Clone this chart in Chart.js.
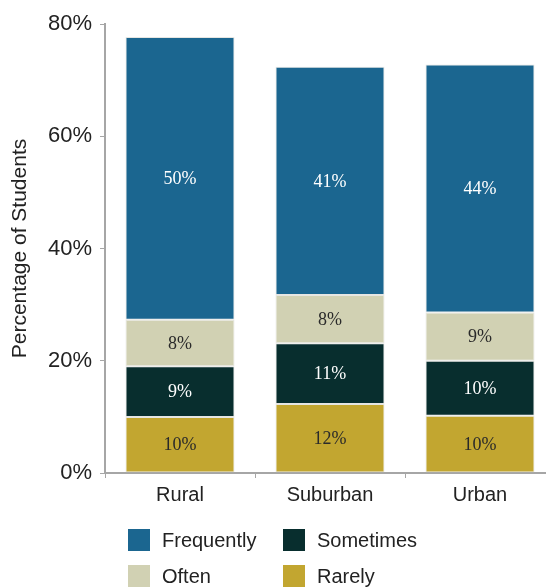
<!DOCTYPE html>
<html>
<head>
<meta charset="utf-8">
<script src="https://cdn.jsdelivr.net/npm/chart.js@4/dist/chart.umd.min.js"></script>
<style>
  html, body { margin: 0; padding: 0; background: #fff; overflow: hidden; }
  #wrap { position: relative; width: 546px; height: 588px; overflow: hidden; }
  #wrap canvas { position: absolute; left: 0; top: 0; }
  #legend { position: absolute; left: 128px; top: 529px; font-family: "Liberation Sans", Arial, sans-serif; font-size: 20px; color: #222; }
  .item { position: absolute; white-space: nowrap; }
  .box { position: absolute; left: 0; top: 0; width: 22px; height: 22px; }
  .lbl { position: absolute; left: 34px; top: 0; line-height: 22px; }
</style>
</head>
<body>
<div id="wrap">
  <canvas id="chart" width="560" height="588"></canvas>
  <div id="legend"></div>
</div>
<script>
    const categories = ['Rural', 'Suburban', 'Urban'];

    // segment heights (percent)
    const rarely     = [10.0, 12.3, 10.2];
    const sometimes  = [9.0, 10.8, 9.8];
    const often      = [8.3, 8.6, 8.6];
    const frequently = [50.4, 40.7, 44.2];

    // printed labels in each segment
    const rarelyText     = ['10%', '12%', '10%'];
    const sometimesText  = ['9%', '11%', '10%'];
    const oftenText      = ['8%', '8%', '9%'];
    const frequentlyText = ['50%', '41%', '44%'];

    const yTicks = [0, 20, 40, 60, 80];
    const legendOrder = ['Frequently', 'Sometimes', 'Often', 'Rarely'];

    const segmentLabels = {
        id: 'segmentLabels',
        afterDatasetsDraw(chart) {
            const ctx = chart.ctx;
            ctx.save();
            ctx.font = '18px "Liberation Serif", serif';
            ctx.textAlign = 'center';
            ctx.textBaseline = 'middle';
            chart.data.datasets.forEach((ds, i) => {
                chart.getDatasetMeta(i).data.forEach((bar, j) => {
                    ctx.fillStyle = ds.textColor;
                    ctx.fillText(ds.shown[j], bar.x, (bar.y + bar.base) / 2 + 1);
                });
            });
            ctx.restore();
        }
    };

    const datasets = [
        { label: 'Rarely', data: rarely, shown: rarelyText, backgroundColor: '#c2a630', textColor: '#2a2a2a' },
        { label: 'Sometimes', data: sometimes, shown: sometimesText, backgroundColor: '#082e2e', textColor: '#fff' },
        { label: 'Often', data: often, shown: oftenText, backgroundColor: '#d1d1b3', textColor: '#2a2a2a' },
        { label: 'Frequently', data: frequently, shown: frequentlyText, backgroundColor: '#1b6690', textColor: '#fff' }
    ];
    datasets.forEach(ds => {
        ds.borderColor = 'rgba(200,200,190,0.45)';
        ds.borderWidth = 1;
        ds.borderSkipped = false;
        ds.categoryPercentage = 1;
        ds.barPercentage = 0.727;
    });

    const axisGray = '#a6a6a6';

    const chart = new Chart(document.getElementById('chart'), {
        type: 'bar',
        data: { labels: categories, datasets: datasets },
        options: {
            responsive: false,
            animation: false,
            devicePixelRatio: 1,
            layout: { padding: { top: 24, right: 5, left: 0, bottom: 0 } },
            plugins: { legend: { display: false }, tooltip: { enabled: false } },
            scales: {
                x: {
                    stacked: true,
                    grid: { drawOnChartArea: false, drawTicks: true, tickLength: 5, color: axisGray, offset: true },
                    border: { color: axisGray, width: 2 },
                    ticks: { color: '#222', padding: 5, font: { family: '"Liberation Sans", Arial, sans-serif', size: 20 } },
                    afterFit: s => { s.height = 115; }
                },
                y: {
                    stacked: true,
                    min: 0,
                    max: 80,
                    afterBuildTicks: s => { s.ticks = yTicks.map(v => ({ value: v })); },
                    grid: { drawOnChartArea: false, drawTicks: true, tickLength: 5, color: axisGray },
                    border: { color: axisGray, width: 2 },
                    ticks: { color: '#222', padding: 8, font: { family: '"Liberation Sans", Arial, sans-serif', size: 22 },
                             callback: v => v + '%' },
                    title: { display: true, text: 'Percentage of Students', color: '#222',
                             padding: { top: 8, bottom: 0 },
                             font: { family: '"Liberation Sans", Arial, sans-serif', size: 21 } },
                    afterFit: s => { s.width = 105; }
                }
            }
        },
        plugins: [segmentLabels]
    });

    // legend in two columns, as in the picture
    const legend = document.getElementById('legend');
    legendOrder.forEach((name, k) => {
        const ds = datasets.find(d => d.label === name);
        const item = document.createElement('div');
        item.className = 'item';
        item.style.left = (k % 2) * 155 + 'px';
        item.style.top = Math.floor(k / 2) * 36 + 'px';
        item.innerHTML = '<div class="box" style="background:' + ds.backgroundColor + '"></div><div class="lbl">' + name + '</div>';
        legend.appendChild(item);
    });
</script>
</body>
</html>
